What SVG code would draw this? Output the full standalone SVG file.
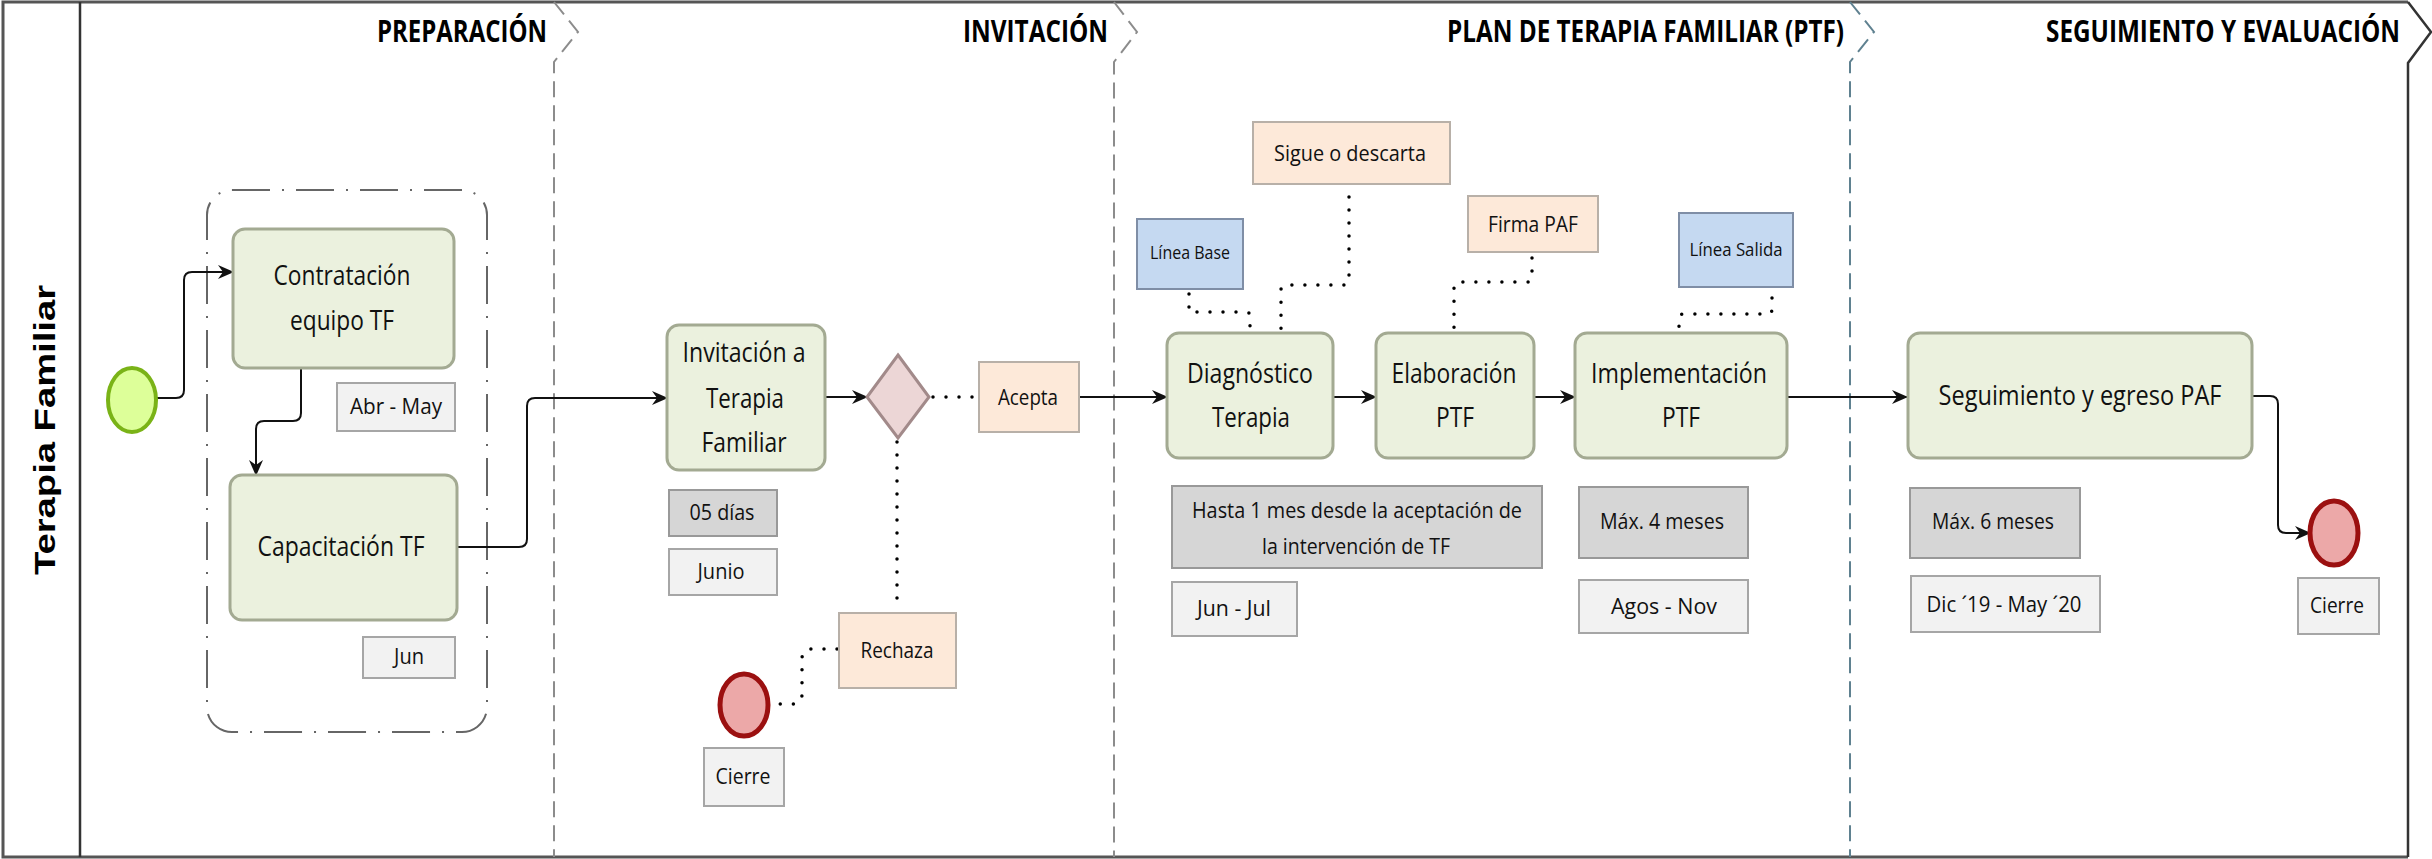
<svg xmlns="http://www.w3.org/2000/svg" width="2432" height="859" viewBox="0 0 2432 859">
<style>
.frame{fill:none;stroke:#555;stroke-width:3}
.sep{fill:none;stroke:#8c8c8c;stroke-width:2;stroke-dasharray:16 8}
.sepb{fill:none;stroke:#5f8190;stroke-width:2;stroke-dasharray:16 8}
.hdr{font-family:"Open Sans","Noto Sans",sans-serif;font-weight:700;font-size:30px;fill:#000;text-anchor:end}
.lane{font-family:"Liberation Sans",Arial,sans-serif;font-weight:700;font-size:30px;fill:#000;text-anchor:middle}
.task{fill:#ebf1de;stroke:#a3aa92;stroke-width:3}
.t{font-family:"Open Sans","Noto Sans",sans-serif;font-size:27px;fill:#111;text-anchor:middle}
.s{font-family:"Open Sans","Noto Sans",sans-serif;font-size:22px;fill:#111;text-anchor:middle}
.xs{font-family:"Open Sans","Noto Sans",sans-serif;font-size:18px;fill:#111;text-anchor:middle}
.lt{fill:#f2f2f2;stroke:#a6a6a6;stroke-width:2}
.dk{fill:#d6d6d6;stroke:#999;stroke-width:2}
.pe{fill:#fde9d9;stroke:#b8b0a8;stroke-width:2}
.bl{fill:#c5d9f1;stroke:#7f8ea6;stroke-width:2}
.flow{fill:none;stroke:#111;stroke-width:2;marker-end:url(#arr)}
.dot{fill:none;stroke:#000;stroke-width:3.5;stroke-dasharray:0 13;stroke-linecap:round}
.grp{fill:none;stroke:#666;stroke-width:2;stroke-dasharray:38 12 2 12}
.start{fill:#ddff99;stroke:#7ab317;stroke-width:4}
.end{fill:#eca8a8;stroke:#9b1010;stroke-width:5}
</style>
<defs>
<marker id="arr" viewBox="0 0 16 16" markerWidth="16" markerHeight="16" refX="15" refY="8" orient="auto" markerUnits="userSpaceOnUse">
<path d="M0,1 L16,8 L0,15 L5,8 z" fill="#111"/>
</marker>
</defs>
<rect width="2432" height="859" fill="#fff"/>
<g id="pool">
<path class="frame" d="M2408,2 L3,2 L3,857 L2408,857"/>
<line x1="80" y1="2" x2="80" y2="857" stroke="#333" stroke-width="2.5"/>
<path fill="none" stroke="#333" stroke-width="2.5" d="M2408,2 L2431,32 L2408,63 L2408,857"/>
<text class="lane" transform="translate(55,430) rotate(-90)" textLength="290" lengthAdjust="spacingAndGlyphs">Terapia Familiar</text>
</g>
<g id="phases">
<path class="sep" d="M554,2 L578,32 L554,62 L554,857"/>
<path class="sep" d="M1114,2 L1137,32 L1114,62 L1114,857"/>
<path class="sepb" d="M1850,2 L1874,32 L1850,62 L1850,857"/>
<text class="hdr" x="547" y="42" textLength="170" lengthAdjust="spacingAndGlyphs">PREPARACIÓN</text>
<text class="hdr" x="1108" y="42" textLength="145" lengthAdjust="spacingAndGlyphs">INVITACIÓN</text>
<text class="hdr" x="1844" y="42" textLength="397" lengthAdjust="spacingAndGlyphs">PLAN DE TERAPIA FAMILIAR (PTF)</text>
<text class="hdr" x="2400" y="42" textLength="354" lengthAdjust="spacingAndGlyphs">SEGUIMIENTO Y EVALUACIÓN</text>
</g>
<g id="group-preparacion">
<rect class="grp" x="207" y="190" width="280" height="542" rx="25"/>
</g>
<g id="connectors">
<path class="flow" d="M156,398 L176,398 Q184,398 184,390 L184,280 Q184,272 192,272 L233,272"/>
<path class="flow" d="M301,368 L301,413 Q301,421 293,421 L264,421 Q256,421 256,429 L256,475"/>
<path class="flow" d="M457,547 L519,547 Q527,547 527,539 L527,406 Q527,398 535,398 L667,398"/>
<path class="flow" d="M825,397 L867,397"/>
<path class="dot" d="M933,397 L975,397"/>
<path class="dot" d="M897,442 L897,610"/>
<path class="dot" d="M837,649 L812,649 Q802,649 802,659 L802,694 Q802,704 792,704 L772,704"/>
<path class="flow" d="M1079,397 L1167,397"/>
<path class="flow" d="M1333,397 L1376,397"/>
<path class="flow" d="M1534,397 L1575,397"/>
<path class="flow" d="M1787,397 L1907,397"/>
<path class="flow" d="M2252,396 L2270,396 Q2278,396 2278,404 L2278,525 Q2278,533 2286,533 L2310,533"/>
<path class="dot" d="M1189,294 L1189,312 L1246,312 Q1250,312 1250,316 L1250,331"/>
<path class="dot" d="M1349,197 L1349,280 Q1349,285 1344,285 L1286,285 Q1281,285 1281,290 L1281,331"/>
<path class="dot" d="M1532,258 L1532,277 Q1532,282 1527,282 L1459,282 Q1454,282 1454,287 L1454,331"/>
<path class="dot" d="M1772,298 L1772,309 Q1772,314 1767,314 L1684,314 Q1679,314 1679,319 L1679,331"/>
</g>
<g id="start">
<ellipse class="start" cx="132" cy="400" rx="24" ry="32"/>
</g>
<g id="contratacion">
<rect class="task" x="233" y="229" width="221" height="139" rx="12"/>
<text class="t" x="342" y="285" textLength="137" lengthAdjust="spacingAndGlyphs">Contratación</text>
<text class="t" x="342" y="330" textLength="104" lengthAdjust="spacingAndGlyphs">equipo TF</text>
</g>
<g id="abr-may">
<rect class="lt" x="337" y="383" width="118" height="48"/>
<text class="s" x="396" y="414" textLength="92" lengthAdjust="spacingAndGlyphs">Abr - May</text>
</g>
<g id="capacitacion">
<rect class="task" x="230" y="475" width="227" height="145" rx="12"/>
<text class="t" x="341" y="556" textLength="167" lengthAdjust="spacingAndGlyphs">Capacitación TF</text>
</g>
<g id="jun">
<rect class="lt" x="363" y="637" width="92" height="41"/>
<text class="s" x="409" y="664" textLength="30" lengthAdjust="spacingAndGlyphs">Jun</text>
</g>
<g id="invitacion">
<rect class="task" x="667" y="325" width="158" height="145" rx="12"/>
<text class="t" x="744" y="362" textLength="123" lengthAdjust="spacingAndGlyphs">Invitación a</text>
<text class="t" x="745" y="408" textLength="78" lengthAdjust="spacingAndGlyphs">Terapia</text>
<text class="t" x="744" y="452" textLength="85" lengthAdjust="spacingAndGlyphs">Familiar</text>
</g>
<g id="dias">
<rect class="dk" x="669" y="490" width="108" height="46"/>
<text class="s" x="722" y="520" textLength="65" lengthAdjust="spacingAndGlyphs">05 días</text>
</g>
<g id="junio">
<rect class="lt" x="669" y="549" width="108" height="46"/>
<text class="s" x="721" y="579" textLength="47" lengthAdjust="spacingAndGlyphs">Junio</text>
</g>
<g id="gateway">
<path d="M898,355 L929,397 L898,438 L867,397 z" fill="#ecd6d6" stroke="#a28a8a" stroke-width="3"/>
</g>
<g id="acepta">
<rect class="pe" x="979" y="362" width="100" height="70"/>
<text class="s" x="1028" y="405" textLength="60" lengthAdjust="spacingAndGlyphs">Acepta</text>
</g>
<g id="rechaza">
<rect class="pe" x="839" y="613" width="117" height="75"/>
<text class="s" x="897" y="658" textLength="73" lengthAdjust="spacingAndGlyphs">Rechaza</text>
</g>
<g id="cierre-1">
<ellipse class="end" cx="744" cy="705" rx="24" ry="31"/>
<rect class="lt" x="704" y="748" width="80" height="58"/>
<text class="s" x="743" y="784" textLength="55" lengthAdjust="spacingAndGlyphs">Cierre</text>
</g>
<g id="linea-base">
<rect class="bl" x="1137" y="219" width="106" height="70"/>
<text class="xs" x="1190" y="259" textLength="80" lengthAdjust="spacingAndGlyphs">Línea Base</text>
</g>
<g id="sigue">
<rect class="pe" x="1253" y="122" width="197" height="62"/>
<text class="s" x="1350" y="161" textLength="152" lengthAdjust="spacingAndGlyphs">Sigue o descarta</text>
</g>
<g id="firma">
<rect class="pe" x="1468" y="196" width="130" height="56"/>
<text class="s" x="1533" y="232" textLength="90" lengthAdjust="spacingAndGlyphs">Firma PAF</text>
</g>
<g id="linea-salida">
<rect class="bl" x="1679" y="213" width="114" height="74"/>
<text class="xs" x="1736" y="256" textLength="93" lengthAdjust="spacingAndGlyphs">Línea Salida</text>
</g>
<g id="diagnostico">
<rect class="task" x="1167" y="333" width="166" height="125" rx="12"/>
<text class="t" x="1250" y="383" textLength="126" lengthAdjust="spacingAndGlyphs">Diagnóstico</text>
<text class="t" x="1251" y="427" textLength="78" lengthAdjust="spacingAndGlyphs">Terapia</text>
</g>
<g id="elaboracion">
<rect class="task" x="1376" y="333" width="158" height="125" rx="12"/>
<text class="t" x="1454" y="383" textLength="125" lengthAdjust="spacingAndGlyphs">Elaboración</text>
<text class="t" x="1455" y="427" textLength="38" lengthAdjust="spacingAndGlyphs">PTF</text>
</g>
<g id="implementacion">
<rect class="task" x="1575" y="333" width="212" height="125" rx="12"/>
<text class="t" x="1679" y="383" textLength="176" lengthAdjust="spacingAndGlyphs">Implementación</text>
<text class="t" x="1681" y="427" textLength="38" lengthAdjust="spacingAndGlyphs">PTF</text>
</g>
<g id="hasta">
<rect class="dk" x="1172" y="486" width="370" height="82"/>
<text class="s" x="1357" y="518" textLength="330" lengthAdjust="spacingAndGlyphs">Hasta 1 mes desde la aceptación de</text>
<text class="s" x="1356" y="554" textLength="188" lengthAdjust="spacingAndGlyphs">la intervención de TF</text>
</g>
<g id="jun-jul">
<rect class="lt" x="1172" y="582" width="125" height="54"/>
<text class="s" x="1234" y="616" textLength="74" lengthAdjust="spacingAndGlyphs">Jun - Jul</text>
</g>
<g id="max4">
<rect class="dk" x="1579" y="487" width="169" height="71"/>
<text class="s" x="1662" y="529" textLength="124" lengthAdjust="spacingAndGlyphs">Máx. 4 meses</text>
</g>
<g id="agos-nov">
<rect class="lt" x="1579" y="580" width="169" height="53"/>
<text class="s" x="1664" y="614" textLength="106" lengthAdjust="spacingAndGlyphs">Agos - Nov</text>
</g>
<g id="seguimiento">
<rect class="task" x="1908" y="333" width="344" height="125" rx="12"/>
<text class="t" x="2080" y="405" textLength="283" lengthAdjust="spacingAndGlyphs">Seguimiento y egreso PAF</text>
</g>
<g id="max6">
<rect class="dk" x="1910" y="488" width="170" height="70"/>
<text class="s" x="1993" y="529" textLength="122" lengthAdjust="spacingAndGlyphs">Máx. 6 meses</text>
</g>
<g id="dic-may">
<rect class="lt" x="1911" y="576" width="189" height="56"/>
<text class="s" x="2004" y="612" textLength="155" lengthAdjust="spacingAndGlyphs">Dic ´19 - May ´20</text>
</g>
<g id="cierre-2">
<ellipse class="end" cx="2334" cy="533" rx="24" ry="32"/>
<rect class="lt" x="2298" y="578" width="81" height="56"/>
<text class="s" x="2337" y="613" textLength="54" lengthAdjust="spacingAndGlyphs">Cierre</text>
</g>
</svg>
